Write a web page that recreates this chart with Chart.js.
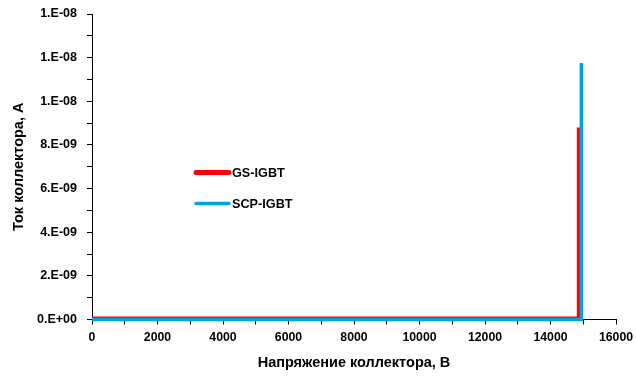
<!DOCTYPE html>
<html>
<head>
<meta charset="utf-8">
<script src="https://cdn.jsdelivr.net/npm/chart.js@4.4.0/dist/chart.umd.min.js"></script>
<style>
  html, body { margin: 0; padding: 0; background: #fff; }
  #wrap { width: 636px; height: 376px; }
</style>
</head>
<body>
<div id="wrap"><canvas id="iv-chart"></canvas></div>
<script>
"use strict";

// точки ВАХ
const gsVoltage = [0, 14872, 14872];
const gsCurrent = [3e-11, 3e-11, 8.8e-9];
const scpVoltage = [0, 14942, 14942];
const scpCurrent = [0, 0, 1.176e-8];

const X_MAX = 16000;
const Y_MAX = 1.4e-8;

const FONT = "'Liberation Sans', Arial, sans-serif";

function toPoints(xs, ys) {
    return xs.map((x, i) => ({ x: x, y: ys[i] }));
}

// формат Excel "0.E+00"
function excelExp(v) {
    if (Math.abs(v) < 1e-20) return '0.E+00';
    let exp = Math.floor(Math.log10(Math.abs(v)));
    let m = Math.round(v / Math.pow(10, exp));
    if (m >= 10) { m = 1; exp += 1; }
    const e = Math.abs(exp);
    return m + '.E' + (exp < 0 ? '-' : '+') + (e < 10 ? '0' + e : e);
}

// легенда внутри области графика, как в Excel
const inlineLegend = {
    id: 'inlineLegend',
    afterDraw(chart) {
        const c = chart.ctx;
        const rows = [
            { y: 172.5, width: 5 },
            { y: 203.5, width: 3.5 }
        ];
        c.save();
        c.font = 'bold 12.7px ' + FONT;
        c.textBaseline = 'middle';
        chart.data.datasets.forEach((ds, i) => {
            const r = rows[i];
            c.strokeStyle = ds.borderColor;
            c.lineWidth = r.width;
            c.lineCap = 'round';
            c.beginPath();
            c.moveTo(196, r.y);
            c.lineTo(229, r.y);
            c.stroke();
            c.fillStyle = '#000';
            c.fillText(ds.label, 232, r.y + 0.5);
        });
        c.restore();
    }
};

const ctx = document.getElementById('iv-chart').getContext('2d');
const ivChart = new Chart(ctx, {
    type: 'line',
    data: {
        datasets: [{
            label: 'GS-IGBT',
            borderColor: 'rgb(255, 0, 0)',
            backgroundColor: 'rgb(255, 0, 0)',
            borderWidth: 4.5,
            pointRadius: 0,
            order: 2,
            clip: false,
            data: toPoints(gsVoltage, gsCurrent)
        }, {
            label: 'SCP-IGBT',
            borderColor: 'rgb(0, 163, 224)',
            backgroundColor: 'rgb(0, 163, 224)',
            borderWidth: 3.5,
            pointRadius: 0,
            order: 1,
            clip: false,
            data: toPoints(scpVoltage, scpCurrent)
        }]
    },
    options: {
        responsive: true,
        maintainAspectRatio: false,
        animation: false,
        layout: {
            padding: { top: 14, right: 20, left: 0, bottom: 0 }
        },
        scales: {
            x: {
                type: 'linear',
                min: 0,
                max: X_MAX,
                afterFit: (s) => {
                    s.height = 56.5;
                    s.paddingLeft = 0;
                    s.paddingRight = 0;
                },
                title: {
                    display: true,
                    text: 'Напряжение коллектора, В',
                    color: '#000',
                    font: { family: FONT, size: 14.5, weight: 'bold' },
                    padding: { top: 4, bottom: 4 }
                },
                ticks: {
                    stepSize: 1000,
                    autoSkip: false,
                    maxRotation: 0,
                    padding: 6,
                    color: '#000',
                    font: { family: FONT, size: 12.3, weight: 'bold' },
                    callback: (v, i) => (i % 2 === 0 ? String(v) : '')
                },
                grid: {
                    drawOnChartArea: false,
                    drawTicks: true,
                    tickLength: 5,
                    color: '#000'
                },
                border: { color: '#000', width: 1 }
            },
            y: {
                type: 'linear',
                min: 0,
                max: Y_MAX,
                afterFit: (s) => {
                    s.width = 92;
                    s.paddingTop = 0;
                    s.paddingBottom = 0;
                },
                title: {
                    display: true,
                    text: 'Ток коллектора, А',
                    color: '#000',
                    font: { family: FONT, size: 14.5, weight: 'bold' },
                    padding: { top: 10, bottom: 0 }
                },
                ticks: {
                    stepSize: 1e-9,
                    autoSkip: false,
                    padding: 10,
                    color: '#000',
                    font: { family: FONT, size: 12.5, weight: 'bold' },
                    callback: (v, i) => (i % 2 === 0 ? excelExp(v) : '')
                },
                grid: {
                    drawOnChartArea: false,
                    drawTicks: true,
                    tickLength: 5,
                    color: '#000'
                },
                border: { color: '#000', width: 1 }
            }
        },
        plugins: {
            legend: { display: false },
            tooltip: { enabled: false },
            title: { display: false }
        }
    },
    plugins: [inlineLegend]
});
</script>
</body>
</html>
